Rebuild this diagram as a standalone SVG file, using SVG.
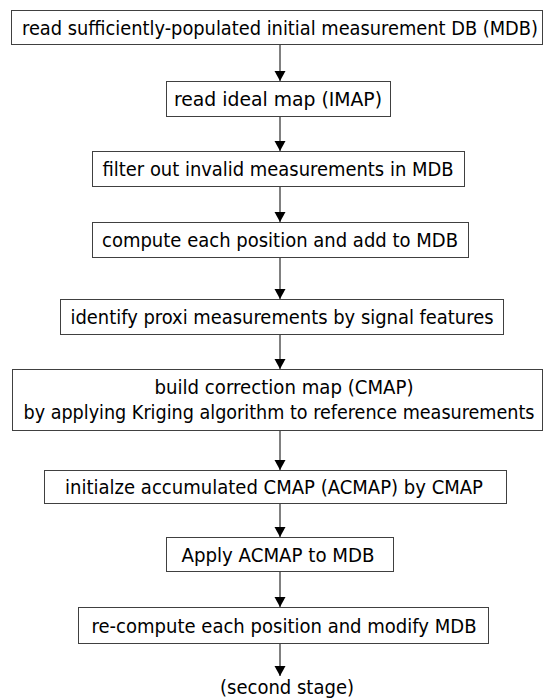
<svg xmlns="http://www.w3.org/2000/svg" width="544" height="700" viewBox="0 0 544 700">
  <style>
    .box { fill: #ffffff; stroke: #404040; stroke-width: 1; }
    .lbl { font-family: "DejaVu Sans Condensed", "DejaVu Sans", sans-serif; font-size: 19px; fill: #000000; text-anchor: middle; }
    .conn { stroke: #808080; stroke-width: 2; fill: none; marker-end: url(#arrow); }
  </style>
  <defs>
    <marker id="arrow" markerWidth="12" markerHeight="12" refX="10" refY="6" orient="auto" markerUnits="userSpaceOnUse">
      <path d="M0,0.5 L10,6 L0,11.5 Z" fill="#000000"/>
    </marker>
  </defs>
  <rect width="544" height="700" fill="#ffffff"/>

  <!-- flow connectors -->
  <g id="connectors">
    <line class="conn" x1="280" y1="44" x2="280" y2="81"/>
    <line class="conn" x1="280" y1="116" x2="280" y2="151"/>
    <line class="conn" x1="280" y1="186" x2="280" y2="222"/>
    <line class="conn" x1="280" y1="257" x2="280" y2="299"/>
    <line class="conn" x1="280" y1="334" x2="280" y2="369"/>
    <line class="conn" x1="280" y1="430" x2="280" y2="470"/>
    <line class="conn" x1="280" y1="503" x2="280" y2="537"/>
    <line class="conn" x1="280" y1="571" x2="280" y2="607"/>
    <line class="conn" x1="280" y1="643" x2="280" y2="676"/>
  </g>

  <g id="read-mdb">
    <rect class="box" x="11.5" y="10.5" width="531" height="34"/>
    <text class="lbl" x="280" y="35" textLength="516" lengthAdjust="spacingAndGlyphs">read sufficiently-populated initial measurement DB (MDB)</text>
  </g>
  <g id="read-imap">
    <rect class="box" x="166.5" y="81.5" width="224" height="35"/>
    <text class="lbl" x="278" y="106" textLength="208" lengthAdjust="spacingAndGlyphs">read ideal map (IMAP)</text>
  </g>
  <g id="filter-invalid">
    <rect class="box" x="92.5" y="151.5" width="372" height="35"/>
    <text class="lbl" x="278" y="176" textLength="351" lengthAdjust="spacingAndGlyphs">filter out invalid measurements in MDB</text>
  </g>
  <g id="compute-position">
    <rect class="box" x="92.5" y="222.5" width="376" height="35"/>
    <text class="lbl" x="280" y="247" textLength="356" lengthAdjust="spacingAndGlyphs">compute each position and add to MDB</text>
  </g>
  <g id="identify-proxi">
    <rect class="box" x="60.5" y="299.5" width="443" height="35"/>
    <text class="lbl" x="282" y="324" textLength="423" lengthAdjust="spacingAndGlyphs">identify proxi measurements by signal features</text>
  </g>
  <g id="build-cmap">
    <rect class="box" x="12.5" y="369.5" width="530" height="61"/>
    <text class="lbl" x="284" y="394" textLength="259" lengthAdjust="spacingAndGlyphs">build correction map (CMAP)</text>
    <text class="lbl" x="279" y="419" textLength="511" lengthAdjust="spacingAndGlyphs">by applying Kriging algorithm to reference measurements</text>
  </g>
  <g id="init-acmap">
    <rect class="box" x="44.5" y="470.5" width="462" height="33"/>
    <text class="lbl" x="274" y="494" textLength="418" lengthAdjust="spacingAndGlyphs">initialze accumulated CMAP (ACMAP) by CMAP</text>
  </g>
  <g id="apply-acmap">
    <rect class="box" x="166.5" y="537.5" width="227" height="34"/>
    <text class="lbl" x="278" y="562" textLength="193" lengthAdjust="spacingAndGlyphs">Apply ACMAP to MDB</text>
  </g>
  <g id="recompute-position">
    <rect class="box" x="78.5" y="607.5" width="410" height="36"/>
    <text class="lbl" x="284" y="633" textLength="385" lengthAdjust="spacingAndGlyphs">re-compute each position and modify MDB</text>
  </g>
  <g id="second-stage">
    <text class="lbl" x="287" y="694" textLength="134" lengthAdjust="spacingAndGlyphs">(second stage)</text>
  </g>
</svg>
